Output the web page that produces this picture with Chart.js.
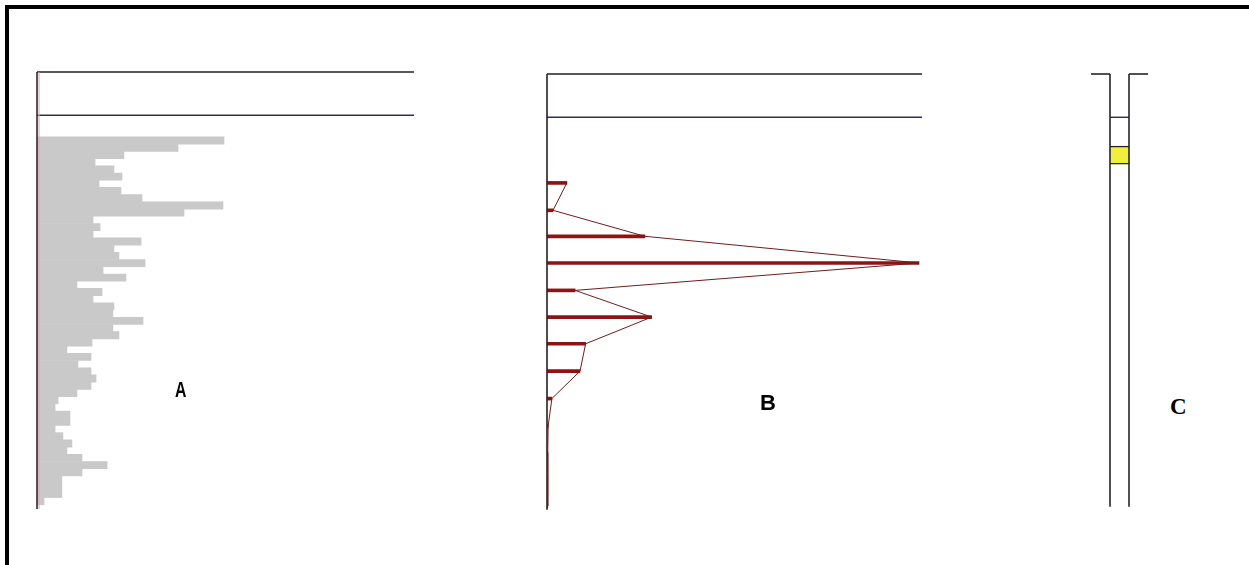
<!DOCTYPE html>
<html>
<head>
<meta charset="utf-8">
<title>Well log panels</title>
<script src="https://cdn.jsdelivr.net/npm/chart.js@4.4.0/dist/chart.umd.min.js"></script>
<style>
  html, body { margin: 0; padding: 0; background: #fff; }
  body { width: 1249px; height: 565px; position: relative; overflow: hidden; }
  #frame { position: absolute; left: 5px; top: 5px; width: 1260px; height: 580px;
           border-left: 4px solid #000; border-top: 4px solid #000; }
  canvas { position: absolute; }
  .label { position: absolute; font-weight: bold; line-height: 1; color: #000; white-space: nowrap; }
</style>
</head>
<body>
<div id="frame"></div>
<canvas id="chart-a" width="387" height="450" style="left:32px; top:67px;"></canvas>
<canvas id="chart-b" width="385" height="450" style="left:542px; top:69px;"></canvas>
<canvas id="chart-c" width="67" height="450" style="left:1086px; top:69px;"></canvas>
<div class="label" style="left:175px; top:379px; font-family:'Liberation Sans', Arial, sans-serif; font-size:22px; transform:scaleX(0.72); transform-origin:left top;">A</div>
<div class="label" style="left:760px; top:392px; font-family:'Liberation Sans', Arial, sans-serif; font-size:22px;">B</div>
<div class="label" style="left:1170px; top:395px; font-family:'Liberation Serif', 'Times New Roman', serif; font-size:23px;">C</div>
<script>
// Depths (m) shared by the three panels
const depthMax = 305;
const markerDepth = 30;     // blue line under the top line
const axisBottomA = 303;
const axisBottomB = 302;

// Panel A: histogram, 5 m bins from 45 m down to 300 m
const binSize = 5;
const binTops = [45, 50, 55, 60, 65, 70, 75, 80, 85, 90,
                 95, 100, 105, 110, 115, 120, 125, 130, 135, 140,
                 145, 150, 155, 160, 165, 170, 175, 180, 185, 190,
                 195, 200, 205, 210, 215, 220, 225, 230, 235, 240,
                 245, 250, 255, 260, 265, 270, 275, 280, 285, 290, 295];
const gammaValues = [74.4, 56.1, 34.6, 23.1, 30.6, 33.8, 24.7, 33.4, 41.8, 74.0,
                     58.5, 22.3, 25.1, 22.3, 41.4, 30.6, 32.6, 43.0, 26.3, 35.4,
                     15.9, 25.9, 22.3, 30.6, 30.2, 42.2, 30.2, 32.6, 21.9, 11.9,
                     21.5, 16.3, 21.5, 23.5, 21.5, 15.9, 8.4, 7.2, 13.1, 13.1,
                     7.2, 10.3, 13.9, 11.9, 17.9, 27.9, 17.9, 9.9, 9.9, 9.9, 2.8];
const gammaMax = 150;

// Panel B: peaks at fixed depths
const peakDepths = [75.5, 94.5, 112.5, 131, 150, 168.5, 187, 206, 225, 244, 262.5, 281, 299.5];
const peakValues = [5.3, 1.6, 26.1, 99.2, 7.5, 27.9, 10.3, 8.8, 1.3, 0.3, 0.2, 0.2, 0.2];
const peakMax = 100;

// Panel C: well column with one marked zone
const zoneTop = 50;
const zoneBottom = 62.5;
const wellBottom = 300;

// Function to build a thin line dataset
function lineSet(points, color, width) {
    return {
        type: 'line',
        data: points,
        borderColor: color,
        borderWidth: width,
        pointRadius: 0,
        fill: false,
        tension: 0,
        clip: false
    };
}

// Common options, no axes drawn, depth grows downwards
function baseOptions(xMin, xMax, indexAxis) {
    return {
        responsive: false,
        animation: false,
        events: [],
        indexAxis: indexAxis,
        layout: { padding: 5 },
        plugins: { legend: { display: false }, tooltip: { enabled: false } },
        scales: {
            // bar charts turn offset on for the index axis, keep it off
            x: { type: 'linear', min: xMin, max: xMax, offset: false, display: false },
            y: { type: 'linear', reverse: true, min: 0, max: depthMax, offset: false, display: false }
        }
    };
}

// Panel A
const gammaBars = binTops.map((d, i) => ({ x: gammaValues[i], y: d + binSize / 2 }));
new Chart(document.getElementById('chart-a'), {
    type: 'bar',
    data: {
        datasets: [
            lineSet([{ x: 0, y: 0 }, { x: 0, y: axisBottomA }], '#3a2828', 1.6),
            lineSet([{ x: 0.8, y: 0 }, { x: 0.8, y: axisBottomA }], 'rgba(215,170,185,0.55)', 2),
            lineSet([{ x: 0, y: 0 }, { x: gammaMax, y: 0 }], '#202020', 1.6),
            lineSet([{ x: 0, y: markerDepth }, { x: gammaMax, y: markerDepth }], '#2e2e5c', 1.6),
            {
                type: 'bar',
                data: gammaBars,
                backgroundColor: '#c9c9c9',
                borderWidth: 0,
                barPercentage: 1,
                categoryPercentage: 1
            }
        ]
    },
    options: baseOptions(0, gammaMax, 'y')
});

// Panel B
const peakPoints = peakDepths.map((d, i) => ({ x: peakValues[i], y: d }));
new Chart(document.getElementById('chart-b'), {
    type: 'bar',
    data: {
        datasets: [
            lineSet(peakPoints, '#6e1c1c', 1),
            lineSet([{ x: 0, y: 0 }, { x: 0, y: axisBottomB }], '#2a2020', 1.6),
            lineSet([{ x: 0, y: 0 }, { x: peakMax, y: 0 }], '#202020', 1.6),
            lineSet([{ x: 0, y: markerDepth }, { x: peakMax, y: markerDepth }], '#2e2e5c', 1.6),
            {
                type: 'bar',
                data: peakPoints,
                backgroundColor: '#8e1414',
                borderWidth: 0,
                barThickness: 3
            }
        ]
    },
    options: baseOptions(0, peakMax, 'y')
});

// Panel C
new Chart(document.getElementById('chart-c'), {
    type: 'bar',
    data: {
        datasets: [
            lineSet([{ x: -0.5, y: 0 }, { x: -0.5, y: wellBottom }], '#262626', 1.6),
            lineSet([{ x: 0.5, y: 0 }, { x: 0.5, y: wellBottom }], '#262626', 1.6),
            lineSet([{ x: -1.5, y: 0 }, { x: -0.5, y: 0 }], '#262626', 1.6),
            lineSet([{ x: 0.5, y: 0 }, { x: 1.5, y: 0 }], '#262626', 1.6),
            lineSet([{ x: -0.5, y: markerDepth }, { x: 0.5, y: markerDepth }], '#2e2e5a', 1.4),
            {
                type: 'bar',
                data: [{ x: 0, y: [zoneTop, zoneBottom] }],
                backgroundColor: '#f0f03c',
                borderColor: '#262626',
                borderWidth: { top: 1.5, bottom: 1.5, left: 0, right: 0 },
                borderSkipped: false,
                barThickness: 19
            }
        ]
    },
    options: baseOptions(-1.5, 1.5, 'x')
});
</script>
</body>
</html>
